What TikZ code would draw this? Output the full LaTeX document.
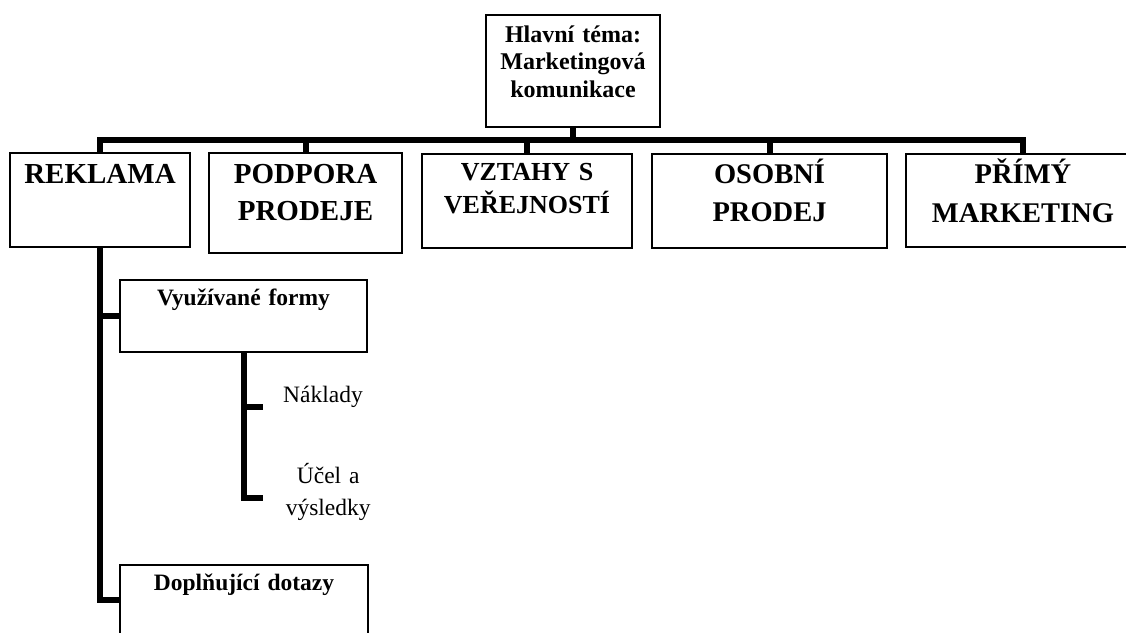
\documentclass[tikz,border=0pt]{standalone}
\usepackage{fontspec}
\setmainfont{Liberation Serif}
\usetikzlibrary{positioning}

\begin{document}
\begin{tikzpicture}[
    x=1pt, y=-1pt,          % pixel-like units, top-down
    ]
% -------------------------------------------------
\tikzset{
  base/.style={draw, line width=1.2pt, inner sep=0pt, align=center},
  head/.style={base, font=\bfseries\fontsize{29}{37}\selectfont},
  sub/.style={base, font=\bfseries\fontsize{23.5}{28}\selectfont},
  leaf/.style={inner xsep=20pt, inner ysep=0pt, align=center, font=\fontsize{23.5}{32}\selectfont},
  line/.style={draw, line width=6pt}
}
% -------------------------------------------------
\clip (0,0) rectangle (1126,632);

% Placing the nodes
\node [base, font=\bfseries\fontsize{24}{27.5}\selectfont, text width=174pt, text height=27pt, text depth=85pt] (top) at (573,71) {Hlavní téma:\\Marketingová\\komunikace};
\coordinate (bus) at (0,140);

\node [head, text width=180pt, text height=30pt, text depth=64pt] (rek) at (100,200) {REKLAMA};
\node [head, text width=193pt, text height=30pt, text depth=70pt] (pod) at (305.5,203) {PODPORA\\PRODEJE};
\node [head, font=\bfseries\fontsize{26}{33}\selectfont, text width=210pt, text height=26pt, text depth=68pt] (vzt) at (527,201) {VZTAHY S\\VEŘEJNOSTÍ};
\node [head, font=\bfseries\fontsize{28.5}{38}\selectfont, text width=235pt, text height=29pt, text depth=65pt] (oso) at (769.5,201) {OSOBNÍ\\PRODEJ};
\node [head, font=\bfseries\fontsize{28.5}{39}\selectfont, text width=234pt, text height=29pt, text depth=64pt] (pri) at (1023,200.5) {PŘÍMÝ\\MARKETING};

\node [sub, text width=247pt, text height=25pt, text depth=47pt] (vyu) at (243.5,316) {Využívané formy};
\node [sub, text width=248pt, text height=25pt, text depth=45pt] (dop) at (244,600) {Doplňující dotazy};

\node [leaf, anchor=west, text height=16pt, text depth=26pt] (nak) at (263,407) {Náklady};
\node [leaf, anchor=west, text width=90pt, text height=17pt, text depth=47pt] (uce) at (263,498) {Účel a\\výsledky};

% Connectors
\path [line] (top.south) |- (rek.north |- bus) -- (rek.north);
\path [line] (top.south) |- (pod.north |- bus) -- (pod.north);
\path [line] (top.south) |- (vzt.north |- bus) -- (vzt.north);
\path [line] (top.south) |- (oso.north |- bus) -- (oso.north);
\path [line] (top.south) |- (pri.north |- bus) -- (pri.north);

\path [line] (rek.south) |- (vyu.west);
\path [line] (rek.south) |- (dop.west);
\path [line] (vyu.south) |- (nak.west);
\path [line] (vyu.south) |- (uce.west);

\end{tikzpicture}
\end{document}
